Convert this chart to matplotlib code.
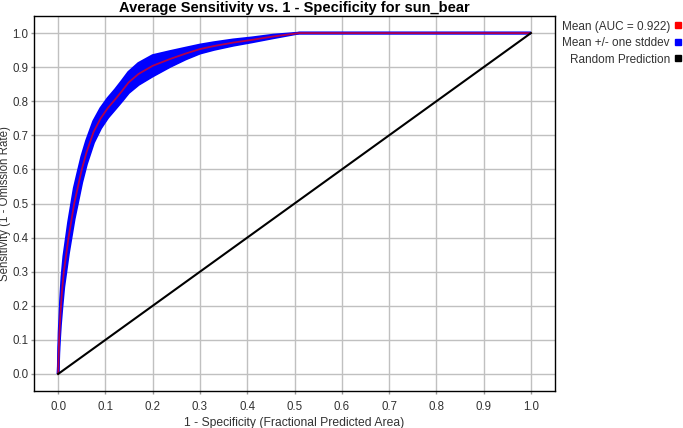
import numpy as np
import matplotlib
matplotlib.use("Agg")
import matplotlib.pyplot as plt
from matplotlib.lines import Line2D

# values (mean ROC curve and its stddev)
fpr = [0.0, 0.002, 0.005, 0.008, 0.012, 0.017, 0.022, 0.028, 0.034, 0.042,
       0.05, 0.06, 0.075, 0.09, 0.105, 0.121, 0.135, 0.149, 0.17, 0.2,
       0.237, 0.27, 0.30, 0.33, 0.37, 0.41, 0.455, 0.51, 1.0]
tpr_mean = [0.0, 0.1, 0.18, 0.24, 0.30, 0.35, 0.40, 0.45, 0.50, 0.55,
            0.60, 0.65, 0.71, 0.75, 0.78, 0.806, 0.83, 0.855, 0.88, 0.904,
            0.924, 0.94, 0.953, 0.962, 0.972, 0.98, 0.99, 1.0, 1.0]
tpr_sd = [0.0, 0.02, 0.035, 0.045, 0.045, 0.045, 0.045, 0.045, 0.045, 0.042,
          0.038, 0.034, 0.031, 0.029, 0.028, 0.028, 0.029, 0.03, 0.031, 0.03,
          0.022, 0.016, 0.012, 0.01, 0.008, 0.006, 0.004, 0.0, 0.0]
random_x = [0.0, 1.0]
random_y = [0.0, 1.0]
auc = 0.922
species = "sun_bear"
xticks = np.round(np.arange(0, 1.01, 0.1), 1)
yticks = np.round(np.arange(0, 1.01, 0.1), 1)

plt.rcParams["font.family"] = ["Liberation Sans", "DejaVu Sans"]
TXT = "#333333"

fpr = np.array(fpr)
mean = np.array(tpr_mean)
sd = np.array(tpr_sd)
upper = np.minimum(mean + sd, 1.0)
lower = np.maximum(mean - sd, 0.0)

fig = plt.figure(figsize=(6.83, 4.28), dpi=100)
ax = fig.add_axes([0.0505, 0.0864, 0.7615, 0.8762])

ax.fill_between(fpr, lower, upper, color="#0000ff", lw=0)
ax.plot(fpr, upper, color="#0000ff", lw=2, solid_capstyle="butt")
ax.plot(fpr, lower, color="#0000ff", lw=2, solid_capstyle="butt")
ax.plot(fpr, mean, color="#ff0000", lw=1.3, alpha=0.7)
ax.plot(random_x, random_y, color="black", lw=1.5)

ax.set_xlim(-0.05, 1.05)
ax.set_ylim(-0.05, 1.05)
ax.set_xticks(xticks)
ax.set_yticks(yticks)
ax.set_xticklabels([f"{v:.1f}" for v in xticks])
ax.set_yticklabels([f"{v:.1f}" for v in yticks])
ax.grid(True, color="#c0c0c0", lw=1)
ax.set_axisbelow(True)
ax.tick_params(length=2, width=1, color="#999999", labelsize=8.3,
               labelcolor=TXT, pad=2.5)
ax.tick_params(axis="x", pad=5)
for s in ax.spines.values():
    s.set_color("black")
    s.set_linewidth(1)

ax.set_xlabel("1 - Specificity (Fractional Predicted Area)", fontsize=8.7,
              color=TXT, labelpad=3)
ax.set_ylabel("Sensitivity (1 - Omission Rate)", fontsize=8.3, color=TXT,
              va="center")
ax.yaxis.set_label_coords(-0.057, 0.5)
ax.set_title(f"Average Sensitivity vs. 1 - Specificity for {species}",
             fontsize=10.5, fontweight="bold", color="black", pad=3)

handles = [
    Line2D([], [], ls="none", marker="s", ms=4.5, color="#ff0000"),
    Line2D([], [], ls="none", marker="s", ms=4.5, color="#0000ff"),
    Line2D([], [], ls="none", marker="s", ms=4.5, color="black"),
]
labels = [f"Mean (AUC = {auc:.3f})", "Mean +/- one stddev", "Random Prediction"]
fig.legend(handles, labels, loc="upper right", bbox_to_anchor=(1.005, 0.963),
           frameon=False, markerfirst=False, fontsize=8.5, labelspacing=0.38,
           handlelength=0.6, handletextpad=0.4, labelcolor=TXT,
           borderaxespad=0.0)

fig.savefig("out.png", dpi=100)
